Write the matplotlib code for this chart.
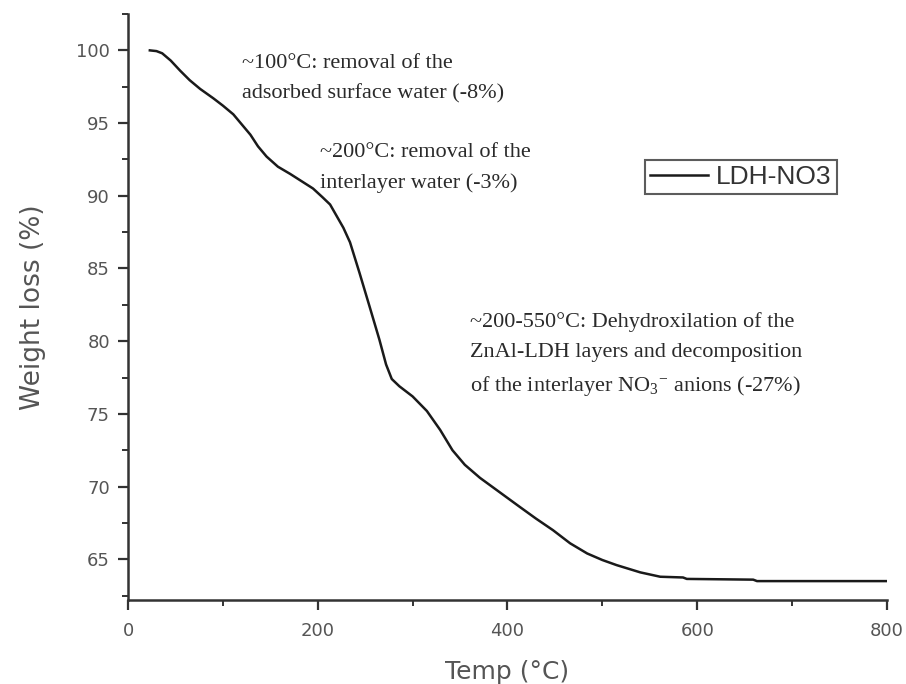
import matplotlib
matplotlib.use("Agg")
import matplotlib.pyplot as plt
from matplotlib.ticker import MultipleLocator

temp = [23, 30, 36, 45, 55, 65, 76, 90, 100, 111, 120, 129, 137, 146, 158, 171, 183, 195,
        205, 213, 220, 227, 234, 244, 255, 265, 272, 278, 286, 300, 315, 329, 342, 355,
        371, 392, 413, 430, 448, 466, 484, 500, 515, 540, 561, 585, 589, 659, 663, 800]
weight = [100.0, 99.95, 99.8, 99.3, 98.6, 97.95, 97.35, 96.7, 96.2, 95.6, 94.9, 94.2,
          93.4, 92.7, 92.0, 91.5, 91.0, 90.5, 89.9, 89.4, 88.6, 87.8, 86.8, 84.7, 82.3,
          80.1, 78.4, 77.4, 76.9, 76.2, 75.2, 73.9, 72.5, 71.5, 70.6, 69.6, 68.6, 67.8,
          67.0, 66.1, 65.4, 64.95, 64.6, 64.1, 63.8, 63.75, 63.65, 63.6, 63.5, 63.5]

series_label = "LDH-NO3"
x_label = "Temp (°C)"
y_label = "Weight loss (%)"
note_x = [120, 202, 360]
note_y = [99.75, 93.6, 82.0]
note_text = [
    "~100°C: removal of the\nadsorbed surface water (-8%)",
    "~200°C: removal of the\ninterlayer water (-3%)",
    "~200-550°C: Dehydroxilation of the\nZnAl-LDH layers and decomposition\n"
    "of the interlayer NO$_3$$^{\\mathdefault{-}}$ anions (-27%)",
]

plt.rcParams['mathtext.fontset'] = 'custom'
plt.rcParams['mathtext.rm'] = 'Liberation Serif'
plt.rcParams['mathtext.it'] = 'Liberation Serif'

fig = plt.figure(figsize=(9.06, 6.84), dpi=100)
ax = fig.add_axes([0.1413, 0.1228, 0.8377, 0.8567])
ax.plot(temp, weight, color="#1a1a1a", lw=1.8, label=series_label)
ax.set_xlim(0, 800)
ax.set_ylim(62.2, 102.5)
ax.xaxis.set_major_locator(MultipleLocator(200))
ax.xaxis.set_minor_locator(MultipleLocator(100))
ax.yaxis.set_major_locator(MultipleLocator(5))
ax.yaxis.set_minor_locator(MultipleLocator(2.5))
for s in ["top", "right"]:
    ax.spines[s].set_visible(False)
for s in ["left", "bottom"]:
    ax.spines[s].set_color("#333333")
    ax.spines[s].set_linewidth(1.8)
ax.tick_params(which="major", direction="out", length=7, width=1.6, color="#333333",
               labelsize=13, labelcolor="#555555", pad=6)
ax.tick_params(axis="x", which="major", pad=9)
ax.tick_params(which="minor", direction="out", length=4, width=1.4, color="#333333")
ax.set_xlabel(x_label, fontsize=18, color="#555555", labelpad=14)
ax.set_ylabel(y_label, fontsize=19, color="#555555", labelpad=22)

for x, y, t in zip(note_x, note_y, note_text):
    ax.text(x, y, t, fontsize=16, family="Liberation Serif", color="#2a2a2a",
            va="top", ha="left", linespacing=1.75)

leg = ax.legend(loc="upper left", bbox_to_anchor=(0.681, 0.751), frameon=True,
                fancybox=False, edgecolor="#333333", handlelength=2.2,
                prop={"family": "Liberation Sans", "size": 19},
                borderpad=0.2, handletextpad=0.3, borderaxespad=0)
leg.get_frame().set_linewidth(1.5)
for t in leg.get_texts():
    t.set_color("#333333")

fig.savefig("out.png", dpi=100)
